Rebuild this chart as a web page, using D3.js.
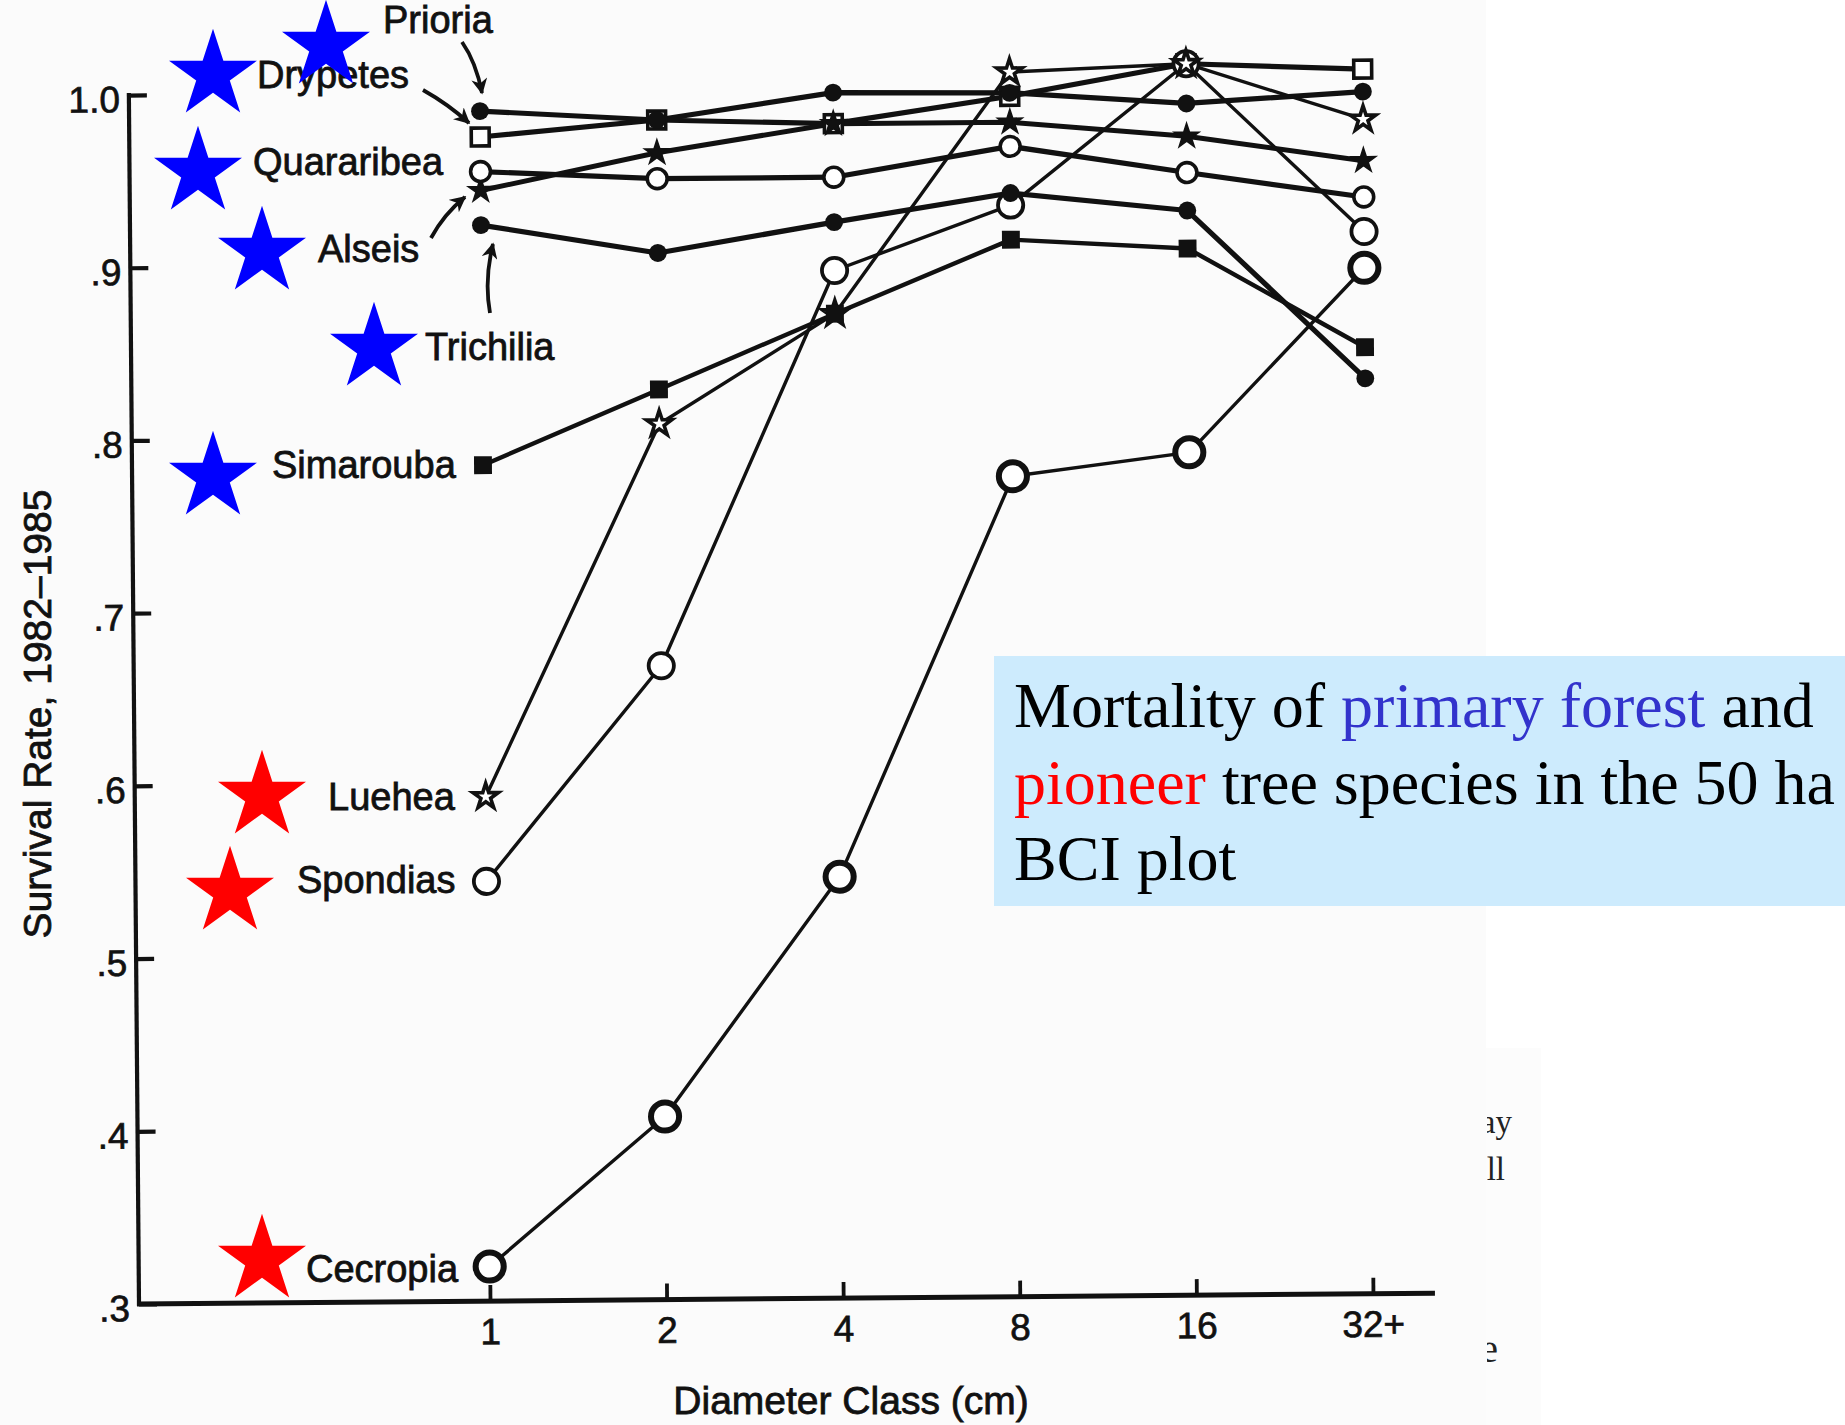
<!DOCTYPE html>
<html><head><meta charset="utf-8">
<script src="https://cdn.jsdelivr.net/npm/d3@7"></script>
<style>
html,body{margin:0;padding:0;background:#ffffff;}
svg{display:block;}
</style>
</head><body>
<svg id="chart" width="1845" height="1425"></svg>
<script>
// ---------------- DATA ----------------
const categories = ["1", "2", "4", "8", "16", "32+"];
const yTickValues = [0.3, 0.4, 0.5, 0.6, 0.7, 0.8, 0.9, 1.0];
const yTickLabels = [".3", ".4", ".5", ".6", ".7", ".8", ".9", "1.0"];

const prioria    = [0.989, 0.983, 0.998, 0.997, 0.990, 0.996];
const drypetes   = [0.974, 0.983, 0.980, 0.995, 1.013, 1.009];
const quararibea = [0.954, 0.949, 0.949, 0.966, 0.950, 0.935];
const alseis     = [0.943, 0.964, 0.980, 0.980, 0.971, 0.956];
const trichilia  = [0.923, 0.906, 0.923, 0.939, 0.928, 0.830];
const simarouba  = [0.784, 0.827, 0.870, 0.912, 0.906, 0.848];
const luehea     = [0.592, 0.807, 0.870, 1.009, 1.013, 0.980];
const spondias   = [0.543, 0.667, 0.895, 0.932, 1.013, 0.915];
const cecropia   = [0.320, 0.406, 0.544, 0.775, 0.788, 0.894];

const speciesNames = ["Prioria", "Drypetes", "Quararibea", "Alseis", "Trichilia",
                      "Simarouba", "Luehea", "Spondias", "Cecropia"];
const speciesValues = [prioria, drypetes, quararibea, alseis, trichilia,
                       simarouba, luehea, spondias, cecropia];
const speciesGroup = ["primary", "primary", "primary", "primary", "primary",
                      "primary", "pioneer", "pioneer", "pioneer"];

const xTitle = "Diameter Class (cm)";
const yTitle = "Survival Rate, 1982\u20131985";
const noteLines = [
  [["Mortality of ", "black"], ["primary forest", "primary"], [" and", "black"]],
  [["pioneer", "pioneer"], [" tree species in the 50 ha", "black"]],
  [["BCI plot", "black"]]
];

// ---------------- STYLE / LAYOUT ----------------
const FONT = "'Liberation Sans', Arial, Helvetica, sans-serif";
const SERIF = "'Liberation Serif', 'Times New Roman', Times, serif";
const INK = "#111";
const groupColor = {primary: "#0000ff", pioneer: "#ff0000"};
const noteColor = {black: "#000000", primary: "#3333cc", pioneer: "#ff0000"};

// marker style per species (same order as speciesNames)
const markerStyle = [
  {type: d3.symbolCircle, size: 250, fill: INK,    sw: 0,   line: 5.2},
  {type: d3.symbolSquare, size: 320, fill: "#fff", sw: 3.6, line: 5.2},
  {type: d3.symbolCircle, size: 310, fill: "#fff", sw: 3.6, line: 5.2},
  {type: d3.symbolStar,   size: 190, fill: INK,    sw: 1.5, line: 5.0},
  {type: d3.symbolCircle, size: 250, fill: INK,    sw: 0,   line: 5.2},
  {type: d3.symbolSquare, size: 320, fill: INK,    sw: 0,   line: 4.4},
  {type: d3.symbolStar,   size: 200, fill: "#fff", sw: 3.6, line: 3.4},
  {type: d3.symbolCircle, size: 500, fill: "#fff", sw: 3.8, line: 3.4},
  {type: d3.symbolCircle, size: 620, fill: "#fff", sw: 6.0, line: 3.4}
];
const markerOrder = [8, 1, 3, 2, 7, 6, 5, 4, 0];

// label layout (screen coordinates of scanned figure)
const labelPos = [
  {x: 383, y: 33}, {x: 257, y: 88}, {x: 253, y: 175}, {x: 318, y: 262},
  {x: 425, y: 360}, {x: 272, y: 478}, {x: 328, y: 810}, {x: 297, y: 893},
  {x: 306, y: 1282}
];
// highlight-star layout (screen coordinates)
const starPos = [
  {x: 326, y: 46}, {x: 213, y: 75}, {x: 198, y: 172}, {x: 262, y: 252},
  {x: 374, y: 348}, {x: 213, y: 477}, {x: 262, y: 796}, {x: 230, y: 892},
  {x: 262, y: 1260}
];

const svg = d3.select("#chart");

// scanned page background
svg.append("rect").attr("x", 0).attr("y", 0).attr("width", 1486).attr("height", 1425)
   .attr("fill", "#fbfbfb");
svg.append("rect").attr("x", 1486).attr("y", 1048).attr("width", 55).attr("height", 377)
   .attr("fill", "#fcfcfc");

// clipped fragments of neighbouring page text
const clip = svg.append("defs").append("clipPath").attr("id", "fragclip");
clip.append("rect").attr("x", 1487).attr("y", 1048).attr("width", 60).attr("height", 377);
const frag = svg.append("g").attr("clip-path", "url(#fragclip)")
   .attr("font-family", SERIF).attr("fill", "#222");
frag.append("text").attr("x", 1512).attr("y", 1133).attr("text-anchor", "end")
   .attr("font-size", 33).text("ay");
frag.append("text").attr("x", 1505).attr("y", 1180).attr("text-anchor", "end")
   .attr("font-size", 33).text("all");
frag.append("text").attr("x", 1498).attr("y", 1362).attr("text-anchor", "end")
   .attr("font-size", 40).text("e");

// ---------------- CHART (slightly rotated like the scan) ----------------
const ORIGIN_X = 139, ORIGIN_Y = 1304;
const chart = svg.append("g").attr("transform", `rotate(-0.48, ${ORIGIN_X}, ${ORIGIN_Y})`);

const x = d3.scalePoint().domain(categories).range([490, 1373]);
const y = d3.scaleLinear().domain([0.3, 1.0]).range([1304, 95]);

// axis lines
chart.append("line").attr("x1", ORIGIN_X).attr("x2", ORIGIN_X)
  .attr("y1", y(1.0) - 2).attr("y2", ORIGIN_Y + 2)
  .attr("stroke", INK).attr("stroke-width", 4.2);
chart.append("line").attr("x1", ORIGIN_X - 2).attr("x2", 1435)
  .attr("y1", ORIGIN_Y).attr("y2", ORIGIN_Y)
  .attr("stroke", INK).attr("stroke-width", 5);

const yAxis = d3.axisLeft(y).tickValues(yTickValues)
  .tickFormat((d, i) => yTickLabels[i]).tickSizeInner(-18).tickSizeOuter(0).tickPadding(9);
const gy = chart.append("g").attr("transform", `translate(${ORIGIN_X},0)`).call(yAxis);
gy.select(".domain").remove();
gy.selectAll(".tick line").attr("stroke", INK).attr("stroke-width", 4.2);
gy.selectAll(".tick text").attr("font-family", FONT).attr("font-size", 37)
  .attr("fill", INK).attr("stroke", INK).attr("stroke-width", 0.7).attr("dy", "0.45em");

const xAxis = d3.axisBottom(x).tickSizeInner(-16).tickSizeOuter(0).tickPadding(17);
const gx = chart.append("g").attr("transform", `translate(0,${ORIGIN_Y})`).call(xAxis);
gx.select(".domain").remove();
gx.selectAll(".tick line").attr("stroke", INK).attr("stroke-width", 3.8);
gx.selectAll(".tick text").attr("font-family", FONT).attr("font-size", 37)
  .attr("fill", INK).attr("stroke", INK).attr("stroke-width", 0.7);

// series lines
const line = d3.line().x((d, i) => x(categories[i])).y(d => y(d));
chart.append("g").selectAll("path").data(speciesValues).join("path")
  .attr("d", d => line(d)).attr("fill", "none").attr("stroke", INK)
  .attr("stroke-linejoin", "round")
  .attr("stroke-width", (d, i) => markerStyle[i].line);

// markers
const mg = chart.append("g");
markerOrder.forEach(si => {
  const st = markerStyle[si];
  const sym = d3.symbol().type(st.type).size(st.size);
  mg.append("g").selectAll("path").data(speciesValues[si]).join("path")
    .attr("transform", (d, i) => `translate(${x(categories[i])},${y(d)})`)
    .attr("d", sym())
    .attr("fill", st.fill)
    .attr("stroke", INK)
    .attr("stroke-width", st.sw)
    .attr("stroke-linejoin", "miter");
});

// ---------------- SCAN TEXT (screen coordinates) ----------------
const txt = svg.append("g").attr("font-family", FONT).attr("fill", INK)
  .attr("stroke", INK).attr("stroke-width", 0.8);
txt.selectAll("text.sp").data(speciesNames).join("text").attr("class", "sp")
  .attr("x", (d, i) => labelPos[i].x).attr("y", (d, i) => labelPos[i].y)
  .attr("font-size", 38).text(d => d);

txt.append("text").attr("x", 851).attr("y", 1414).attr("text-anchor", "middle")
  .attr("font-size", 39).text(xTitle);
txt.append("text").attr("transform", "translate(51,714) rotate(-90)")
  .attr("text-anchor", "middle").attr("font-size", 39).text(yTitle);

// leader arrows
const defs = svg.append("defs");
defs.append("marker").attr("id", "ah").attr("viewBox", "0 0 10 10")
  .attr("refX", 9).attr("refY", 5).attr("markerWidth", 4.2).attr("markerHeight", 4.2)
  .attr("orient", "auto-start-reverse")
  .append("path").attr("d", "M0,0 L10,5 L0,10 L3,5 Z").attr("fill", INK);
const arrows = [
  "M462,42 Q476,62 482,93",
  "M423,90 Q448,104 469,123",
  "M431,238 Q444,214 465,197",
  "M490,313 Q484,280 493,244"
];
svg.append("g").selectAll("path").data(arrows).join("path")
  .attr("d", d => d).attr("fill", "none").attr("stroke", INK)
  .attr("stroke-width", 3.8).attr("marker-end", "url(#ah)");

// ---------------- HIGHLIGHT STARS ----------------
const bigStar = d3.symbol().type(d3.symbolStar).size(2400);
svg.append("g").selectAll("path").data(speciesNames).join("path")
  .attr("transform", (d, i) => `translate(${starPos[i].x},${starPos[i].y})`)
  .attr("d", bigStar())
  .attr("fill", (d, i) => groupColor[speciesGroup[i]]);

// ---------------- NOTE BOX ----------------
svg.append("rect").attr("x", 994).attr("y", 656).attr("width", 851).attr("height", 250)
  .attr("fill", "#cdebfd");
const note = svg.append("g").attr("font-family", SERIF).attr("font-size", 64);
note.selectAll("text").data(noteLines).join("text")
  .attr("x", 1014).attr("y", (d, i) => 727 + i * 76.5)
  .selectAll("tspan").data(d => d).join("tspan")
  .attr("fill", d => noteColor[d[1]]).text(d => d[0]);
</script>
</body></html>
